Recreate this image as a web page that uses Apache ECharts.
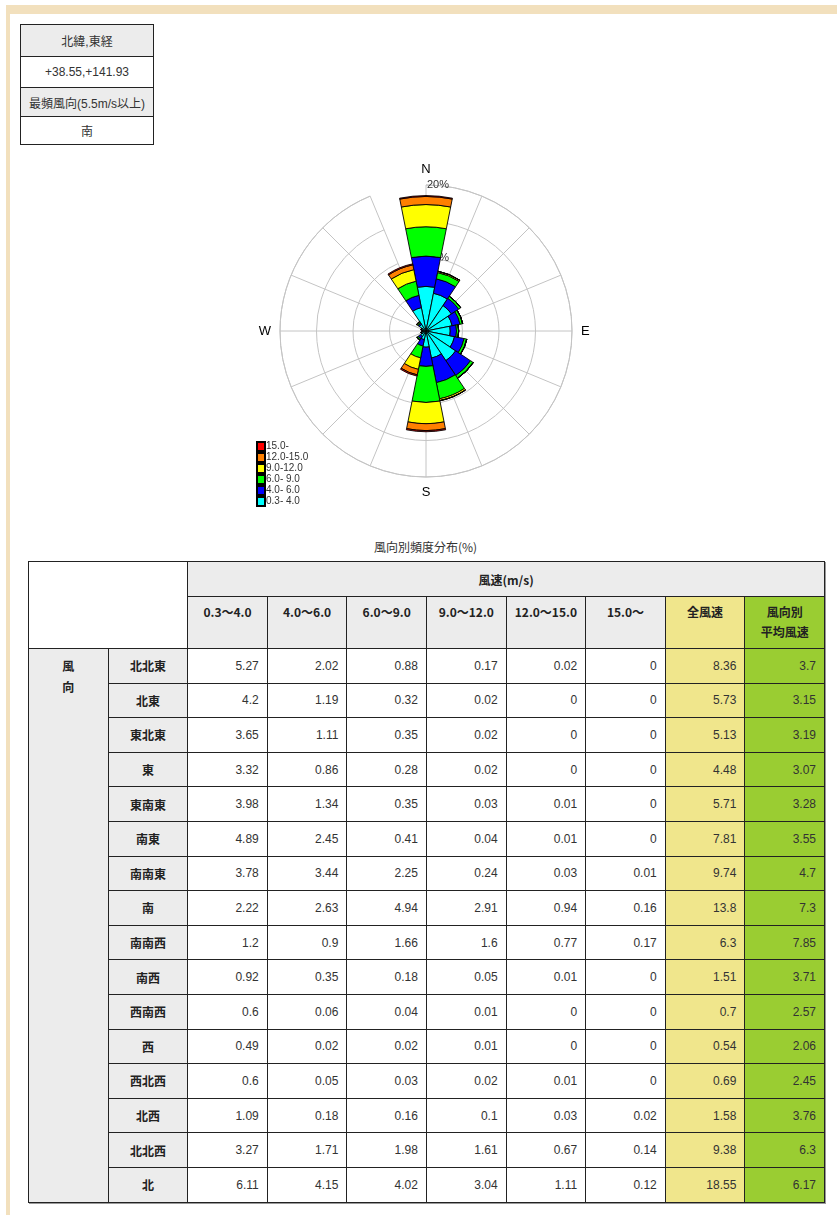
<!DOCTYPE html>
<html lang="ja">
<head>
<meta charset="utf-8">
<title>風向別頻度分布</title>
<script src="https://cdn.jsdelivr.net/npm/echarts@6/dist/echarts.min.js"></script>
<style>
  html, body { margin: 0; padding: 0; background: #fff; }
  body { width: 837px; height: 1215px; position: relative; overflow: hidden;
         font-family: "Liberation Sans", Arial, "Noto Sans CJK JP", sans-serif; color: #333; }
  .frame-top { position: absolute; left: 6px; top: 5px; width: 831px; height: 9px; background: #f2e0bd; }
  .frame-left { position: absolute; left: 6px; top: 5px; width: 4px; height: 1210px; background: #f2e0bd; }
  #rose { position: absolute; left: 0; top: 0; width: 837px; height: 530px; }
  table { border-collapse: collapse; position: absolute; }
  td, th { border: 1px solid #222; padding: 0; }
  #info { left: 20px; top: 24px; width: 134px; font-size: 12px; color: #333; text-align: center;
          font-family: "Liberation Sans", Arial, "Noto Sans CJK JP", sans-serif; }
  #info td.g { background: #ececec; }
  #caption { position: absolute; left: 0; width: 851px; top: 538px; text-align: center; font-size: 12px; color: #333;
             font-family: "Noto Sans CJK JP", sans-serif; }
  #freq { left: 28px; top: 561px; width: 796px; table-layout: fixed; font-size: 12px; box-shadow: 1px 1px 0 #999; }
  #freq th { background: #ececec; font-weight: bold; color: #222; font-family: "Noto Sans CJK JP", sans-serif; font-size: 12px; }
  #freq th.hd2 { vertical-align: top; padding-top: 5px; line-height: 20px; }
  #freq th.all { background: #f0e68c; }
  #freq th.avg { background: #9acd32; }
  #freq th.blank { background: #fff; }
  #freq th.kaze { vertical-align: top; padding-top: 6px; line-height: 21px; }
  #freq td { text-align: right; padding-right: 8px; color: #333; height: 33.6px; }
  #freq td.all { background: #f0e68c; }
  #freq td.avg { background: #9acd32; }
</style>
</head>
<body>
<div class="frame-top"></div>
<div class="frame-left"></div>

<table id="info">
  <tr style="height:32px"><td class="g">北緯,東経</td></tr>
  <tr style="height:31px"><td>+38.55,+141.93</td></tr>
  <tr style="height:29px"><td class="g">最頻風向(5.5m/s以上)</td></tr>
  <tr style="height:28px"><td>南</td></tr>
</table>

<div id="rose"></div>

<div id="caption">風向別頻度分布(%)</div>
<table id="freq"></table>

<script>
// Wind directions, in the order the frequency table lists them
const directions = ['北北東', '北東', '東北東', '東', '東南東', '南東', '南南東', '南',
                    '南南西', '南西', '西南西', '西', '西北西', '北西', '北北西', '北'];

// Speed classes (m/s): table headers and rose legend labels
const speedHeaders = ['0.3〜4.0', '4.0〜6.0', '6.0〜9.0', '9.0〜12.0', '12.0〜15.0', '15.0〜'];
const speedLegend = ['0.3- 4.0', '4.0- 6.0', '6.0- 9.0', '9.0-12.0', '12.0-15.0', '15.0-'];

// Frequency (%) per direction for each speed class
const spd0304 = [5.27, 4.2, 3.65, 3.32, 3.98, 4.89, 3.78, 2.22, 1.2, 0.92, 0.6, 0.49, 0.6, 1.09, 3.27, 6.11];
const spd0406 = [2.02, 1.19, 1.11, 0.86, 1.34, 2.45, 3.44, 2.63, 0.9, 0.35, 0.06, 0.02, 0.05, 0.18, 1.71, 4.15];
const spd0609 = [0.88, 0.32, 0.35, 0.28, 0.35, 0.41, 2.25, 4.94, 1.66, 0.18, 0.04, 0.02, 0.03, 0.16, 1.98, 4.02];
const spd0912 = [0.17, 0.02, 0.02, 0.02, 0.03, 0.04, 0.24, 2.91, 1.6, 0.05, 0.01, 0.01, 0.02, 0.1, 1.61, 3.04];
const spd1215 = [0.02, 0, 0, 0, 0.01, 0.01, 0.03, 0.94, 0.77, 0.01, 0, 0, 0.01, 0.03, 0.67, 1.11];
const spd15up = [0, 0, 0, 0, 0, 0, 0.01, 0.16, 0.17, 0, 0, 0, 0, 0.02, 0.14, 0.12];

// All-speed frequency (%) and mean wind speed (m/s) per direction
const totalFreq = [8.36, 5.73, 5.13, 4.48, 5.71, 7.81, 9.74, 13.8, 6.3, 1.51, 0.7, 0.54, 0.69, 1.58, 9.38, 18.55];
const meanSpeed = [3.7, 3.15, 3.19, 3.07, 3.28, 3.55, 4.7, 7.3, 7.85, 3.71, 2.57, 2.06, 2.45, 3.76, 6.3, 6.17];

// Compass points for the rose, clockwise from north
const compass = ['N', 'NNE', 'NE', 'ENE', 'E', 'ESE', 'SE', 'SSE', 'S', 'SSW', 'SW', 'WSW', 'W', 'WNW', 'NW', 'NNW'];
const cardinals = ['N', 'E', 'S', 'W'];
const radiusLabels = [10, 20];

const speedClasses = [spd0304, spd0406, spd0609, spd0912, spd1215, spd15up];
const palette = ['#00ffff', '#0000ff', '#00ff00', '#ffff00', '#ff8000', '#ff0000'];

// Table lists 北北東 … 北; the rose starts at 北, so move the last entry to the front
const toCompassOrder = arr => [arr[arr.length - 1]].concat(arr.slice(0, arr.length - 1));

// ---------- wind rose ----------
const chart = echarts.init(document.getElementById('rose'), null, { renderer: 'canvas' });
chart.setOption({
  animation: false,
  backgroundColor: 'transparent',
  polar: { center: [426, 331], radius: 146 },
  angleAxis: {
    type: 'category',
    data: compass,
    boundaryGap: false,
    startAngle: 90,
    clockwise: true,
    axisLine: { lineStyle: { color: '#c4c4c4', width: 1 } },
    axisTick: { show: false },
    axisLabel: {
      interval: 0,
      margin: 9,
      color: '#000',
      fontSize: 13,
      fontFamily: 'Liberation Sans, Arial, sans-serif',
      formatter: v => (cardinals.indexOf(v) >= 0 ? v : '')
    },
    splitLine: { show: true, interval: 0, lineStyle: { color: '#c4c4c4', width: 1 } }
  },
  radiusAxis: {
    type: 'value',
    min: 0,
    max: 20,
    interval: 5,
    axisLine: { show: false },
    axisTick: { show: false },
    axisLabel: {
      margin: -1,
      align: 'left',
      verticalAlign: 'middle',
      color: '#333',
      fontSize: 11,
      fontFamily: 'Liberation Sans, Arial, sans-serif',
      formatter: v => (radiusLabels.indexOf(v) >= 0 ? v + '%' : '')
    },
    splitLine: { show: true, lineStyle: { color: '#c4c4c4', width: 1 } }
  },
  legend: {
    orient: 'vertical',
    left: 256,
    top: 441,
    padding: 0,
    itemGap: 0,
    itemWidth: 8,
    itemHeight: 9,
    icon: 'rect',
    selectedMode: false,
    data: speedLegend.slice().reverse(),
    textStyle: { fontSize: 10, lineHeight: 10, padding: [0, 0, 0, -4], color: '#333',
                 fontFamily: 'Liberation Sans, Arial, sans-serif' }
  },
  series: speedClasses.map((vals, i) => ({
    type: 'bar',
    coordinateSystem: 'polar',
    name: speedLegend[i],
    stack: 'rose',
    barCategoryGap: '0%',
    data: toCompassOrder(vals),
    itemStyle: { color: palette[i], borderColor: '#000', borderWidth: 0.9 },
    emphasis: { disabled: true }
  }))
});

// ---------- frequency table ----------
const tbl = document.getElementById('freq');
let html = '<colgroup>' + Array(10).fill('<col style="width:79.6px">').join('') + '</colgroup>';
html += '<tr style="height:35px"><th class="blank" colspan="2" rowspan="2"></th>' +
        '<th colspan="8">風速(m/s)</th></tr>';
html += '<tr style="height:52px">' +
        speedHeaders.map(h => '<th class="hd2">' + h + '</th>').join('') +
        '<th class="hd2 all">全風速</th><th class="hd2 avg">風向別<br>平均風速</th></tr>';
directions.forEach((d, r) => {
  html += '<tr>';
  if (r === 0) html += '<th class="kaze" rowspan="' + directions.length + '">風<br>向</th>';
  html += '<th>' + d + '</th>';
  speedClasses.forEach(vals => { html += '<td>' + vals[r] + '</td>'; });
  html += '<td class="all">' + totalFreq[r] + '</td><td class="avg">' + meanSpeed[r] + '</td></tr>';
});
tbl.innerHTML = html;
</script>
</body>
</html>
